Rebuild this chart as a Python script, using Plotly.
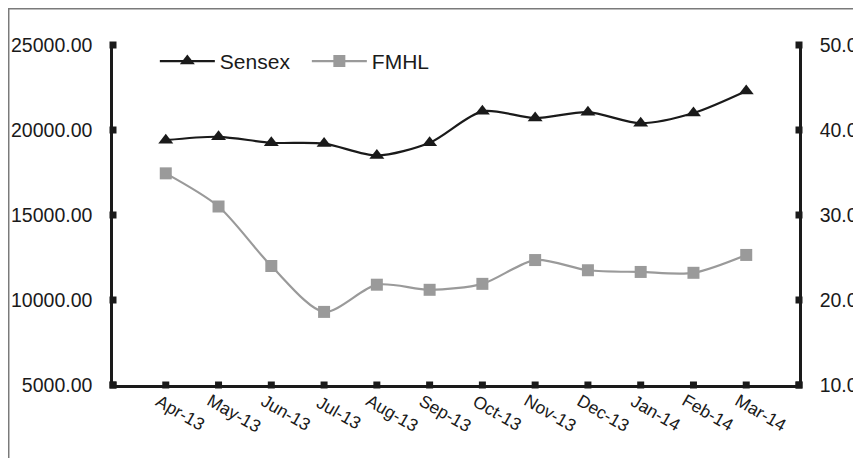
import plotly.graph_objects as go

months = ["Apr-13", "May-13", "Jun-13", "Jul-13", "Aug-13", "Sep-13",
          "Oct-13", "Nov-13", "Dec-13", "Jan-14", "Feb-14", "Mar-14"]
sensex = [19400, 19600, 19250, 19200, 18500, 19250,
          21100, 20700, 21050, 20400, 21000, 22300]
fmhl = [34.9, 31.0, 24.0, 18.6, 21.8, 21.2,
        21.9, 24.7, 23.5, 23.3, 23.2, 25.3]
left_ticks = [5000, 10000, 15000, 20000, 25000]
right_ticks = [10, 20, 30, 40, 50]

FONT = "Liberation Sans, Arial, sans-serif"
INK = "#1a1a1a"
xs = list(range(len(months)))
xmin, xmax = -1, len(months)

fig = go.Figure()
fig.add_trace(go.Scatter(
    x=xs, y=sensex, name="Sensex", mode="lines+markers",
    line=dict(color=INK, width=2.2, shape="spline", smoothing=0.8),
    marker=dict(symbol="triangle-up", size=13, color=INK),
))
fig.add_trace(go.Scatter(
    x=xs, y=fmhl, name="FMHL", mode="lines+markers", yaxis="y2",
    line=dict(color="#9a9a9a", width=2.2, shape="spline", smoothing=0.8),
    marker=dict(symbol="square", size=12, color="#9a9a9a"),
))

# square tick markers on the axes
sq = dict(symbol="square", size=7, color=INK)
fig.add_trace(go.Scatter(x=xs + [xmin, xmax], y=[left_ticks[0]] * (len(xs) + 2),
                         mode="markers", marker=sq, cliponaxis=False,
                         showlegend=False, hoverinfo="skip"))
fig.add_trace(go.Scatter(x=[xmin] * len(left_ticks), y=left_ticks,
                         mode="markers", marker=sq, cliponaxis=False,
                         showlegend=False, hoverinfo="skip"))
fig.add_trace(go.Scatter(x=[xmax] * len(right_ticks), y=right_ticks, yaxis="y2",
                         mode="markers", marker=sq, cliponaxis=False,
                         showlegend=False, hoverinfo="skip"))

# rotated month labels
annotations = [dict(x=x, y=0, xref="x", yref="paper", text=m, showarrow=False,
                    textangle=30, xanchor="center", yanchor="middle",
                    xshift=15, yshift=-28, font=dict(size=17.5, color=INK))
               for x, m in zip(xs, months)]

fig.update_layout(
    width=853, height=450,
    margin=dict(l=105, r=62, t=37, b=73),
    paper_bgcolor="white", plot_bgcolor="white",
    font=dict(family=FONT, color=INK, size=19),
    showlegend=True,
    legend=dict(orientation="h", x=0.061, y=1.012, xanchor="left", yanchor="top",
                font=dict(size=21), bgcolor="rgba(0,0,0,0)", itemwidth=55,
                entrywidth=82, entrywidthmode="pixels", tracegroupgap=0),
    xaxis=dict(range=[xmin, xmax], tickvals=xs, showticklabels=False,
               showgrid=False, zeroline=False, showline=True, linecolor=INK,
               linewidth=2.5, ticks="", automargin=False),
    yaxis=dict(range=[left_ticks[0], left_ticks[-1]], tickvals=left_ticks,
               tickformat=".2f", showgrid=False, zeroline=False, showline=True,
               linecolor=INK, linewidth=2.5, ticks="", ticklabelstandoff=14,
               tickfont=dict(size=19.5), automargin=False),
    yaxis2=dict(range=[right_ticks[0], right_ticks[-1]], tickvals=right_ticks,
                tickformat=".2f", overlaying="y", side="right", showgrid=False,
                zeroline=False, showline=True, linecolor=INK, linewidth=2.5,
                ticks="", ticklabelstandoff=14, tickfont=dict(size=19.5),
                automargin=False),
    annotations=annotations,
    shapes=[dict(type="rect", xref="paper", yref="paper",
                 x0=-0.152, x1=1.3, y0=-0.4, y1=1.1066,
                 line=dict(color="#7a7a7a", width=1.5), layer="below")],
)

fig.write_html("out.html")
